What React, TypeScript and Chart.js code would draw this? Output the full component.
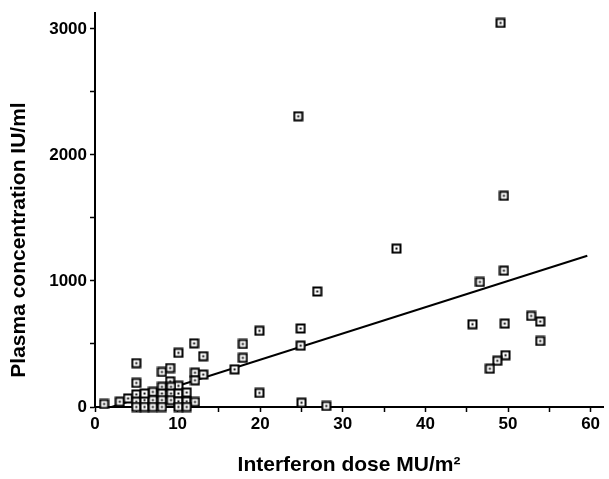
import React, { useEffect, useRef } from "react";
import { Chart, registerables } from "chart.js";

Chart.register(...registerables);

// Interferon dose (MU/m²) of each observation
const doseX: number[] = [
  49.1, 24.6, 49.5, 36.5, 26.9, 49.5, 46.6, 24.9, 24.9, 45.7, 49.6, 52.8, 53.9, 53.9, 49.7, 48.7, 47.8, 25.0, 28.0,
  19.9, 12.0, 17.9, 10.1, 13.1, 17.9, 16.9, 5.0, 5.0, 8.1, 9.1, 9.1, 12.1, 13.1, 12.1, 19.9, 10.1,
  1.1, 3.0, 4.0, 5.0, 5.0, 5.0, 6.0, 6.0, 7.0, 7.0, 7.0, 8.1, 8.1, 8.1, 8.1, 9.2, 9.2, 9.2, 10.1, 10.1, 11.1, 11.1, 12.1, 6.0, 10.1, 11.1,
];
// Plasma concentration (IU/ml) of each observation
const concY: number[] = [
  3048, 2307, 1676, 1257, 917, 1082, 992, 623, 487, 657, 662, 723, 678, 524, 411, 367, 304, 34, 8,
  605, 505, 500, 430, 403, 390, 299, 348, 191, 278, 309, 204, 272, 257, 212, 112, 168,
  24, 42, 68, 100, 42, 0, 55, 0, 120, 55, 0, 160, 107, 55, 0, 160, 107, 55, 107, 45, 115, 45, 40, 107, 0, 0,
];
// Regression line end points
const lineX: number[] = [2, 59.6];
const lineY: number[] = [0, 1200];

// Tick marks (major + minor) and which of them carry labels
const xTicks: number[] = [0, 5, 10, 15, 20, 25, 30, 35, 40, 45, 50, 55, 60];
const xTickLabels: number[] = [0, 10, 20, 30, 40, 50, 60];
const yTicks: number[] = [0, 500, 1000, 1500, 2000, 2500, 3000];
const yTickLabels: number[] = [0, 1000, 2000, 3000];
const xTitle = "Interferon dose MU/m²";
const yTitle = "Plasma concentration IU/ml";

const FONT = "'Liberation Sans', Arial, sans-serif";

function makeMarker(): HTMLCanvasElement {
  const c = document.createElement("canvas");
  c.width = 11;
  c.height = 11;
  const g = c.getContext("2d")!;
  g.fillStyle = "#fff";
  g.fillRect(1, 1, 9, 9);
  g.strokeStyle = "#000";
  g.lineWidth = 2;
  g.strokeRect(1.5, 1.5, 8, 8);
  g.fillStyle = "#000";
  g.fillRect(4.5, 4.5, 2, 2);
  return c;
}

export default function App() {
  const ref = useRef<HTMLCanvasElement | null>(null);
  useEffect(() => {
    if (!ref.current) return;
    const marker = makeMarker();
    const yTitlePlugin = {
      id: "yTitlePlugin",
      afterDraw(chart: any) {
        const ctx = chart.ctx;
        ctx.save();
        ctx.translate(19, 240);
        ctx.rotate(-Math.PI / 2);
        ctx.font = `bold 21px ${FONT}`;
        ctx.fillStyle = "#000";
        ctx.textAlign = "center";
        ctx.textBaseline = "middle";
        ctx.fillText(yTitle, 0, 0);
        ctx.restore();
      },
    };
    const tickFont = { family: FONT, size: 17, weight: "bold" as const };
    const chart = new Chart(ref.current, {
      type: "scatter",
      data: {
        datasets: [
          {
            type: "line",
            data: lineX.map((x, i) => ({ x, y: lineY[i] })),
            borderColor: "#000",
            borderWidth: 2,
            pointRadius: 0,
            showLine: true,
            order: 2,
          } as any,
          {
            data: doseX.map((x, i) => ({ x, y: concY[i] })),
            pointStyle: marker as any,
            pointRadius: 5,
            clip: false as any,
            order: 1,
          },
        ],
      },
      options: {
        animation: false,
        responsive: false,
        devicePixelRatio: 1,
        layout: { padding: { top: 9, right: 0, left: 0, bottom: 0 } },
        plugins: { legend: { display: false }, tooltip: { enabled: false } },
        scales: {
          x: {
            type: "linear",
            min: 0,
            max: 61.5,
            grid: { drawOnChartArea: false, drawTicks: true, tickLength: 5, color: "#000", tickWidth: 1.5 },
            border: { color: "#000", width: 2 },
            afterBuildTicks: (s: any) => {
              s.ticks = xTicks.map((v) => ({ value: v }));
            },
            ticks: {
              autoSkip: false,
              maxRotation: 0,
              padding: 2,
              color: "#000",
              font: tickFont,
              callback: (v: any) => (xTickLabels.includes(Number(v)) ? String(v) : ""),
            },
            title: {
              display: true,
              text: xTitle,
              color: "#000",
              font: { family: FONT, size: 21, weight: "bold" },
              padding: { top: 0, bottom: 1 },
            },
            afterFit: (s: any) => {
              s.height = 72;
            },
          },
          y: {
            type: "linear",
            min: 0,
            max: 3125,
            grid: { drawOnChartArea: false, drawTicks: true, tickLength: 5, color: "#000", tickWidth: 1.5 },
            border: { color: "#000", width: 2 },
            afterBuildTicks: (s: any) => {
              s.ticks = yTicks.map((v) => ({ value: v }));
            },
            ticks: {
              autoSkip: false,
              padding: 3,
              color: "#000",
              font: tickFont,
              callback: (v: any) => (yTickLabels.includes(Number(v)) ? String(v) : ""),
            },
            afterFit: (s: any) => {
              s.width = 95;
            },
          },
        },
      },
      plugins: [yTitlePlugin],
    });
    return () => chart.destroy();
  }, []);
  return (
    <div style={{ position: "fixed", left: 0, top: 0, width: 609, height: 479, background: "#fff" }}>
      <canvas ref={ref} width={609} height={479} style={{ display: "block" }} />
    </div>
  );
}
